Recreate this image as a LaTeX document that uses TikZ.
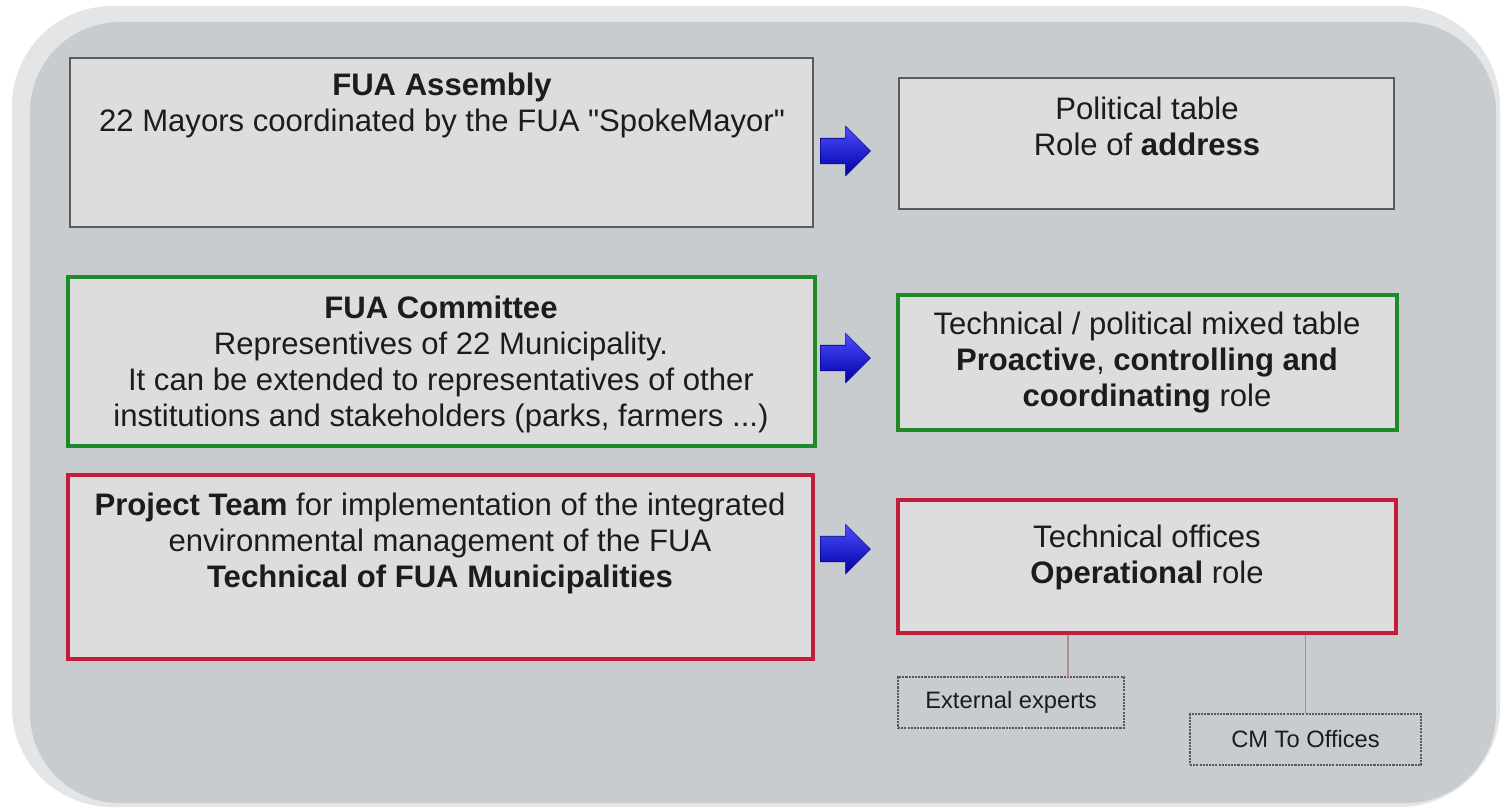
\documentclass[tikz,border=0pt]{standalone}
\usepackage{fontspec}
\setmainfont{Liberation Sans}[Ligatures=TeXOff]
\usetikzlibrary{shapes.arrows}
\definecolor{rimgray}{HTML}{E3E5E7}
\definecolor{backgray}{HTML}{C9CCCF}
\definecolor{boxgray}{HTML}{DDDDDD}
\definecolor{framegray}{HTML}{5A5A5A}
\definecolor{framegreen}{HTML}{1E8A28}
\definecolor{framered}{HTML}{C21E3A}
\definecolor{textgray}{HTML}{1C1C1C}
\definecolor{linkred}{HTML}{B48A8E}

\begin{document}
\begin{tikzpicture}[x = 0.02cm, y = -0.02cm]
	\tikzstyle{grayBox} = [rectangle, fill = boxgray, draw = framegray, line width = 1.1pt, inner sep = 0pt]
	\tikzstyle{greenBox} = [rectangle, fill = boxgray, draw = framegreen, line width = 2.2pt, inner sep = 0pt]
	\tikzstyle{redBox} = [rectangle, fill = boxgray, draw = framered, line width = 2.2pt, inner sep = 0pt]
	\tikzstyle{smallBox} = [rectangle, fill = backgray, draw = framegray, line width = 0.8pt, dash pattern = on 1.2pt off 0.6pt, inner sep = 0pt, text = textgray, font = \fontsize{13.5}{16}\selectfont]
	\tikzstyle{textStyle} = [align = center, inner sep = 0pt, text = textgray, font = \fontsize{17.7}{20.5}\selectfont]
	\tikzstyle{blueArrow} = [single arrow, inner xsep = 0pt, inner ysep = 0.25cm, minimum height = 1cm, minimum width = 0.98cm, single arrow head extend = 0.24cm, single arrow tip angle = 90, top color = blue!70!white, bottom color = blue!65!black, draw = blue!50!black, line width = 0.3pt]
	\tikzstyle{linkStyle} = [draw = linkred, line width = 0.8pt]
	\useasboundingbox (0,0) rectangle (1501,809);
	\fill[rimgray, rounded corners = 2cm] (12,6) rectangle (1500,807);
	\fill[backgray, rounded corners = 1.8cm] (30,22) rectangle (1496,803);
	\node[grayBox, minimum width = 14.86cm, minimum height = 3.38cm] (assembly) at (441.5,142.5) {};
	\node[grayBox, minimum width = 9.9cm, minimum height = 2.62cm] (politic) at (1146.5,143.5) {};
	\node[greenBox, minimum width = 14.94cm, minimum height = 3.38cm] (committee) at (441.5,361.5) {};
	\node[greenBox, minimum width = 9.98cm, minimum height = 2.7cm] (mixed) at (1147.5,362.5) {};
	\node[redBox, minimum width = 14.9cm, minimum height = 3.68cm] (project) at (440.5,567) {};
	\node[redBox, minimum width = 9.96cm, minimum height = 2.66cm] (offices) at (1147,566.5) {};
	\node[smallBox, minimum width = 4.52cm, minimum height = 1.02cm] (experts) at (1011,702.5) {External experts};
	\node[smallBox, minimum width = 4.62cm, minimum height = 1.02cm] (cmto) at (1305.5,739.5) {CM To Offices};
	\node[textStyle] (assemblyText) at (442,105) {\textbf{FUA Assembly}\\22 Mayors coordinated by the FUA "SpokeMayor"};
	\node[textStyle] (politicText) at (1147,126) {Political table\\Role of \textbf{address}};
	\node[textStyle] (committeeText) at (441,364) {\textbf{FUA Committee}\\Representives of 22 Municipality.\\It can be extended to representatives of other\\institutions and stakeholders (parks, farmers ...)};
	\node[textStyle] (mixedText) at (1147,363) {Technical / political mixed table\\\textbf{Proactive}, \textbf{controlling and}\\\textbf{coordinating} role};
	\node[textStyle] (projectText) at (440,543) {\textbf{Project Team} for implementation of the integrated\\environmental management of the FUA\\\textbf{Technical of FUA Municipalities}};
	\node[textStyle] (officesText) at (1147,557) {Technical offices\\\textbf{Operational} role};
	\node[blueArrow] (arrowA) at (839,151) {};
	\node[blueArrow] (arrowB) at (839,358) {};
	\node[blueArrow] (arrowC) at (839,549) {};
	\coordinate (expertsTop) at (1068,677);
	\draw[linkStyle] (expertsTop) -- (expertsTop |- offices.south);
	\draw[linkStyle] (cmto.north) -- (cmto.north |- offices.south);
\end{tikzpicture}
\end{document}
